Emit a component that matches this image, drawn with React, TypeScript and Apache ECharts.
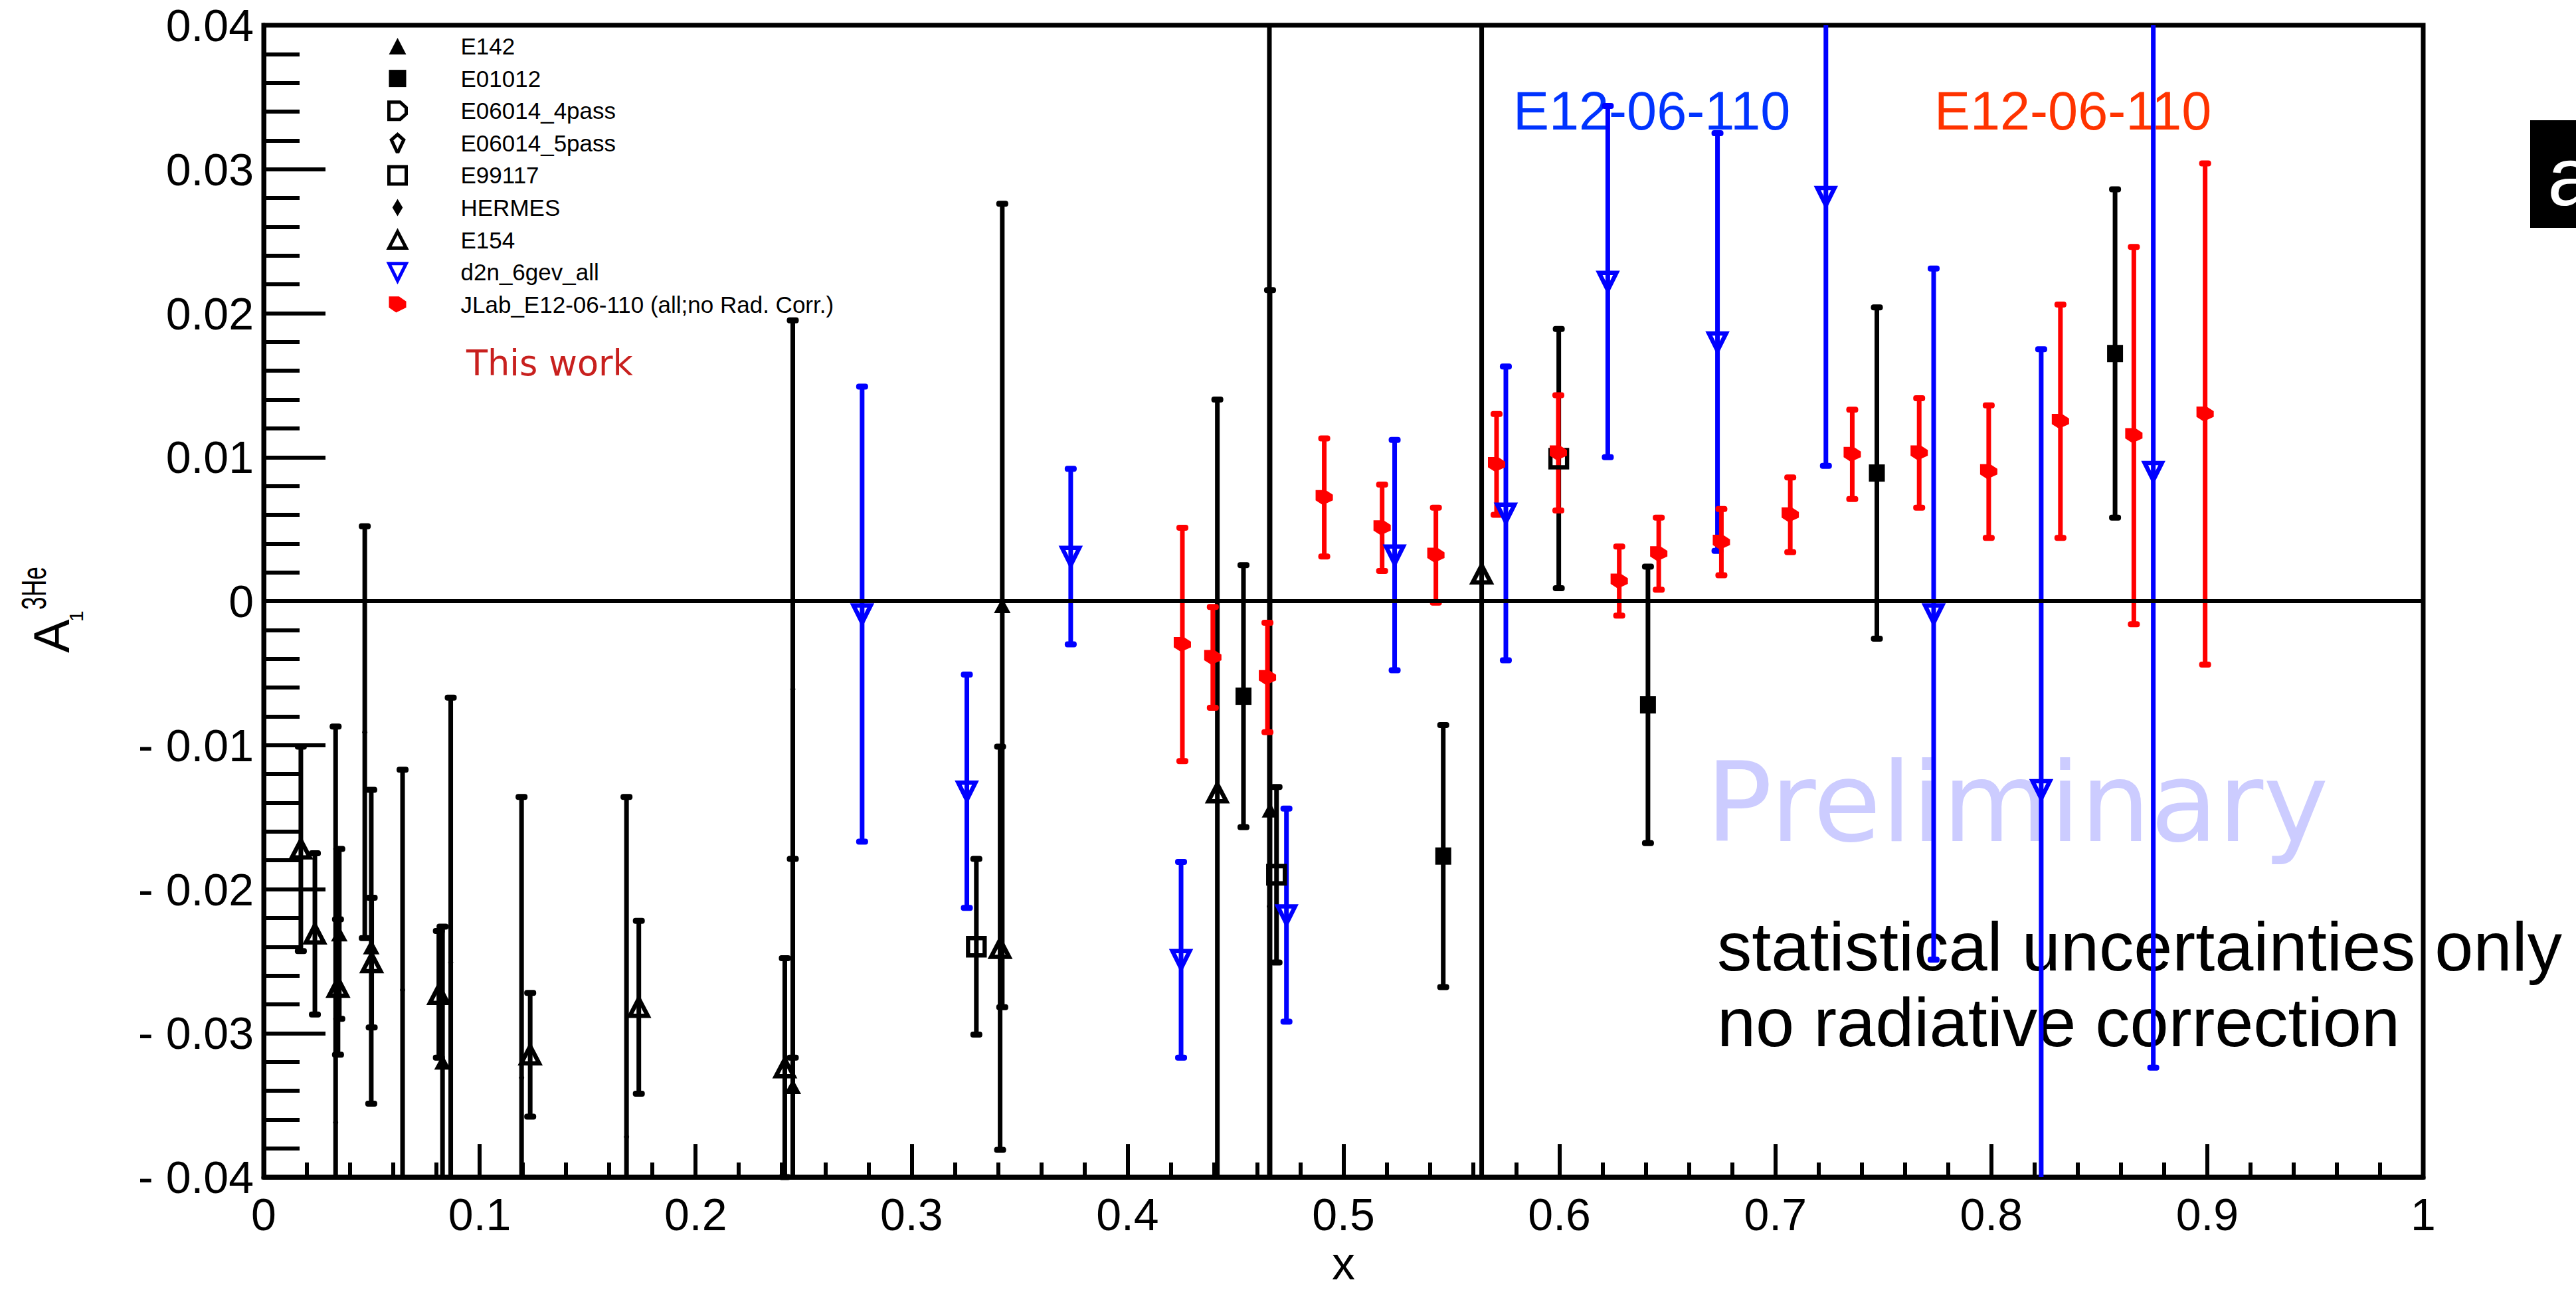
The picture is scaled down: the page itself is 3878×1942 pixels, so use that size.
import React, { useEffect, useRef } from 'react';
import * as echarts from 'echarts';

const FONT = 'Liberation Sans';

const xTickLabels = ['0', '0.1', '0.2', '0.3', '0.4', '0.5', '0.6', '0.7', '0.8', '0.9', '1'];
const yTickLabels = ['- 0.04', '- 0.03', '- 0.02', '- 0.01', '0', '0.01', '0.02', '0.03', '0.04'];

// E142 (SLAC)
const e142X = [0.035, 0.0498, 0.0828, 0.245, 0.342, 0.466];
const e142Y = [-0.0231, -0.024, -0.032, -0.0337, -0.0003, -0.0145];
const e142E = [0.0059, 0.0109, 0.0094, 0.0158, 0.0279, 0.0361];

// E01012
const e01012X = [0.4537, 0.5462, 0.641, 0.747, 0.8573];
const e01012Y = [-0.0066, -0.0177, -0.0072, 0.0089, 0.0172];
const e01012E = [0.0091, 0.0091, 0.0096, 0.0115, 0.0114];

// E06014 (legend only)
const e06014_4X: number[] = [];
const e06014_4Y: number[] = [];
const e06014_4E: number[] = [];
const e06014_5X: number[] = [];
const e06014_5Y: number[] = [];
const e06014_5E: number[] = [];

// E99117
const e99117X = [0.33, 0.469, 0.5997];
const e99117Y = [-0.024, -0.019, 0.0099];
const e99117E = [0.0061, 0.0061, 0.009];

// HERMES
const hermesX = [0.0333, 0.0468, 0.0643, 0.0866, 0.1194, 0.168, 0.245, 0.4657];
const hermesY = [-0.0362, -0.0091, -0.027, -0.0251, -0.0331, -0.0372, -0.0061, -0.0212];
const hermesE = [0.0275, 0.0143, 0.0153, 0.0184, 0.0195, 0.0236, 0.0256, 0.065];

// E154
const e154X = [0.0172, 0.0237, 0.0344, 0.05, 0.0811, 0.1234, 0.1737, 0.2413, 0.341, 0.4416, 0.564];
const e154Y = [-0.0172, -0.0231, -0.0268, -0.0251, -0.0273, -0.0315, -0.0282, -0.0324, -0.0241, -0.0133, 0.0019];
const e154E = [0.0071, 0.0056, 0.0047, 0.0045, 0.0044, 0.0043, 0.006, 0.0076, 0.014, 0.0273, 0.065];

// d2n_6gev_all
const d2nX = [0.2771, 0.3256, 0.3737, 0.4248, 0.4736, 0.5237, 0.5752, 0.6224, 0.6732, 0.7234, 0.7733, 0.8231, 0.875];
const d2nY = [-0.0009, -0.0132, 0.0031, -0.0249, -0.0218, 0.0032, 0.0061, 0.0222, 0.018, 0.0281, -0.0009, -0.0131, 0.009];
const d2nE = [0.0158, 0.0081, 0.0061, 0.0068, 0.0074, 0.008, 0.0102, 0.0122, 0.0145, 0.0187, 0.024, 0.0306, 0.0414];

// JLab E12-06-110 (this work)
const jlabX = [0.4254, 0.4395, 0.4648, 0.4911, 0.5179, 0.5428, 0.5709, 0.5995, 0.6277, 0.646, 0.675, 0.7069, 0.7356, 0.7666, 0.7988, 0.832, 0.866, 0.899];
const jlabY = [-0.003, -0.0039, -0.0053, 0.0072, 0.0051, 0.0032, 0.0095, 0.0103, 0.0014, 0.0033, 0.0041, 0.006, 0.0102, 0.0103, 0.009, 0.0125, 0.0115, 0.013];
const jlabE = [0.0081, 0.0035, 0.0038, 0.0041, 0.003, 0.0033, 0.0035, 0.004, 0.0024, 0.0025, 0.0023, 0.0026, 0.0031, 0.0038, 0.0046, 0.0081, 0.0131, 0.0174];

const SYM_TRI_UP = 'path://M12,0L24,23L0,23Z';
const SYM_TRI_DOWN = 'path://M0,0L24,0L12,24Z';
const SYM_D = 'path://M0,0L18,0L28,9L28,19L18,28L0,28Z';
const SYM_DROP = 'path://M10,0L20,9L11,28L9,28L0,9Z';
const SYM_DIAMOND = 'path://M6,0L12,10L6,20L0,10Z';
const SYM_HOUSE = 'path://M0,0L14,0L24,7L24,15.5L10,22.4L0,15.5Z';

const BAR_W = 7;

function errSeries(name: string, xs: number[], ys: number[], es: number[], color: string) {
  return {
    type: 'custom',
    name: name + ' err',
    silent: true,
    data: xs.map((x, i) => [x, ys[i], es[i]]),
    encode: { x: 0, y: 1 },
    renderItem: (params: any, api: any) => {
      const x = api.value(0);
      const y = api.value(1);
      const e = api.value(2);
      const cs = params.coordSys;
      const p = api.coord([x, y]);
      const t = api.coord([x, y + e]);
      const b = api.coord([x, y - e]);
      const top = Math.max(t[1], cs.y);
      const bot = Math.min(b[1], cs.y + cs.height);
      const children: any[] = [
        { type: 'rect', shape: { x: p[0] - BAR_W / 2, y: top, width: BAR_W, height: bot - top }, style: { fill: color } },
      ];
      if (t[1] >= cs.y) {
        children.push({ type: 'rect', shape: { x: p[0] - 9, y: t[1] - 4.5, width: 18, height: 9, r: 4 }, style: { fill: color } });
      }
      if (b[1] <= cs.y + cs.height) {
        children.push({ type: 'rect', shape: { x: p[0] - 9, y: b[1] - 4.5, width: 18, height: 9, r: 4 }, style: { fill: color } });
      }
      return { type: 'group', children };
    },
  };
}

function markerSeries(name: string, xs: number[], ys: number[], symbol: string, size: number[], itemStyle: any) {
  return {
    type: 'scatter',
    name,
    data: xs.map((x, i) => [x, ys[i]]),
    symbol,
    symbolSize: size,
    symbolKeepAspect: true,
    itemStyle,
  };
}

const filled = (c: string) => ({ color: c, borderWidth: 0, opacity: 1 });
const hollow = (c: string) => ({ color: 'rgba(255,255,255,0)', borderColor: c, borderWidth: 6.5, opacity: 1 });

export default function App() {
  const ref = useRef<HTMLDivElement>(null);
  useEffect(() => {
    if (!ref.current) return;
    const chart = echarts.init(ref.current, undefined, { renderer: 'svg' });
    const txt = (text: string, x: number, y: number, size: number, color: string, family: string, extra: any = {}) => ({
      type: 'text',
      x,
      y,
      z: 1,
      silent: true,
      ...extra,
      style: {
        text,
        fill: color,
        fontSize: size,
        fontFamily: family,
        fontWeight: extra.fontWeight || 'normal',
        align: 'left',
        verticalAlign: 'middle',
        textAlign: 'left',
        textVerticalAlign: 'middle',
      },
    });
    const hollowLegend = { borderWidth: 5 };
    const option: any = {
      animation: false,
      backgroundColor: '#ffffff',
      textStyle: { fontFamily: FONT },
      grid: { left: 397, right: 230, top: 38, bottom: 150, show: true, borderColor: '#000', borderWidth: 7, backgroundColor: 'rgba(0,0,0,0)' },
      legend: {
        orient: 'vertical',
        left: 583,
        top: 52,
        padding: 0,
        itemWidth: 26,
        itemHeight: 26,
        itemGap: 13.6,
        selectedMode: false,
        textStyle: { fontSize: 35, fontFamily: FONT, color: '#000', padding: [0, 0, 0, 77] },
        data: [
          { name: 'E142' },
          { name: 'E01012' },
          { name: 'E06014_4pass', itemStyle: hollowLegend },
          { name: 'E06014_5pass', itemStyle: hollowLegend },
          { name: 'E99117', itemStyle: hollowLegend },
          { name: 'HERMES' },
          { name: 'E154', itemStyle: hollowLegend },
          { name: 'd2n_6gev_all', itemStyle: hollowLegend },
          { name: 'JLab_E12-06-110 (all;no Rad. Corr.)' },
        ],
      },
      xAxis: {
        type: 'value',
        min: 0,
        max: 1,
        interval: 0.1,
        name: 'x',
        nameLocation: 'middle',
        nameGap: 84,
        nameTextStyle: { fontSize: 70, fontFamily: FONT, color: '#000' },
        axisLine: { show: true, onZero: false, lineStyle: { color: '#000', width: 7 } },
        axisTick: { show: true, inside: true, length: 50, lineStyle: { color: '#000', width: 6 } },
        minorTick: { show: true, splitNumber: 5, length: 22, lineStyle: { color: '#000', width: 6 } },
        splitLine: { show: false },
        axisLabel: {
          fontSize: 68,
          fontFamily: FONT,
          color: '#000',
          margin: 22,
          formatter: (v: number) => xTickLabels[Math.round(v * 10)] ?? '',
        },
      },
      yAxis: {
        type: 'value',
        min: -0.04,
        max: 0.04,
        interval: 0.01,
        axisLine: { show: true, lineStyle: { color: '#000', width: 7 } },
        axisTick: { show: true, inside: true, length: 93, lineStyle: { color: '#000', width: 6 } },
        minorTick: { show: true, splitNumber: 5, length: 54, lineStyle: { color: '#000', width: 6 } },
        splitLine: { show: false },
        axisLabel: {
          fontSize: 68,
          fontFamily: FONT,
          color: '#000',
          margin: 15,
          formatter: (v: number) => yTickLabels[Math.round(v * 100) + 4] ?? '',
        },
      },
      graphic: [
        txt('A', 77, 983, 76, '#000', FONT, { rotation: Math.PI / 2 }),
        txt('1', 114, 936, 30, '#000', FONT, { rotation: Math.PI / 2 }),
        txt('3He', 51, 918, 52, '#000', FONT, { rotation: Math.PI / 2, scaleX: 0.68 }),
        txt('This work', 702, 546, 52.5, '#c8201e', 'DejaVu Sans'),
        txt('E12-06-110', 2278, 167, 81, '#0033ff', FONT),
        txt('E12-06-110', 2912, 167, 81, '#ff3300', FONT),
        txt('Preliminary', 2568, 1208, 166, '#ccccff', 'DejaVu Sans', { z: 0 }),
        txt('statistical uncertainties only', 2585, 1424, 104.5, '#000', FONT),
        txt('no radiative correction', 2585, 1538, 104.5, '#000', FONT),
        { type: 'rect', x: 3809, y: 181, z: 1, shape: { x: 0, y: 0, width: 80, height: 162 }, style: { fill: '#000' } },
        txt('a', 3835, 265, 125, '#fff', FONT, { z: 2 }),
      ],
      series: [
        errSeries('E142', e142X, e142Y, e142E, '#000'),
        markerSeries('E142', e142X, e142Y, SYM_TRI_UP, [25, 24], filled('#000')),
        errSeries('E01012', e01012X, e01012Y, e01012E, '#000'),
        markerSeries('E01012', e01012X, e01012Y, 'rect', [24, 26], filled('#000')),
        errSeries('E06014_4pass', e06014_4X, e06014_4Y, e06014_4E, '#000'),
        markerSeries('E06014_4pass', e06014_4X, e06014_4Y, SYM_D, [26, 26], hollow('#000')),
        errSeries('E06014_5pass', e06014_5X, e06014_5Y, e06014_5E, '#000'),
        markerSeries('E06014_5pass', e06014_5X, e06014_5Y, SYM_DROP, [19, 27], hollow('#000')),
        errSeries('E99117', e99117X, e99117Y, e99117E, '#000'),
        markerSeries('E99117', e99117X, e99117Y, 'rect', [25, 26], hollow('#000')),
        errSeries('HERMES', hermesX, hermesY, hermesE, '#000'),
        markerSeries('HERMES', hermesX, hermesY, SYM_DIAMOND, [13, 21], filled('#000')),
        errSeries('E154', e154X, e154Y, e154E, '#000'),
        markerSeries('E154', e154X, e154Y, SYM_TRI_UP, [27, 27], hollow('#000')),
        errSeries('d2n_6gev_all', d2nX, d2nY, d2nE, '#0000ff'),
        markerSeries('d2n_6gev_all', d2nX, d2nY, SYM_TRI_DOWN, [26, 26], hollow('#0000ff')),
        errSeries('JLab', jlabX, jlabY, jlabE, '#ff0000'),
        markerSeries('JLab_E12-06-110 (all;no Rad. Corr.)', jlabX, jlabY, SYM_HOUSE, [26, 24], filled('#ff0000')),
        {
          type: 'scatter',
          name: 'zero',
          data: [],
          silent: true,
          markLine: {
            silent: true,
            symbol: 'none',
            label: { show: false },
            lineStyle: { color: '#000', width: 6, type: 'solid' },
            data: [{ yAxis: 0 }],
          },
        },
      ],
    };
    chart.setOption(option);
    return () => chart.dispose();
  }, []);
  return <div ref={ref} style={{ position: 'fixed', left: 0, top: 0, width: 3878, height: 1942, background: '#fff' }} />;
}
